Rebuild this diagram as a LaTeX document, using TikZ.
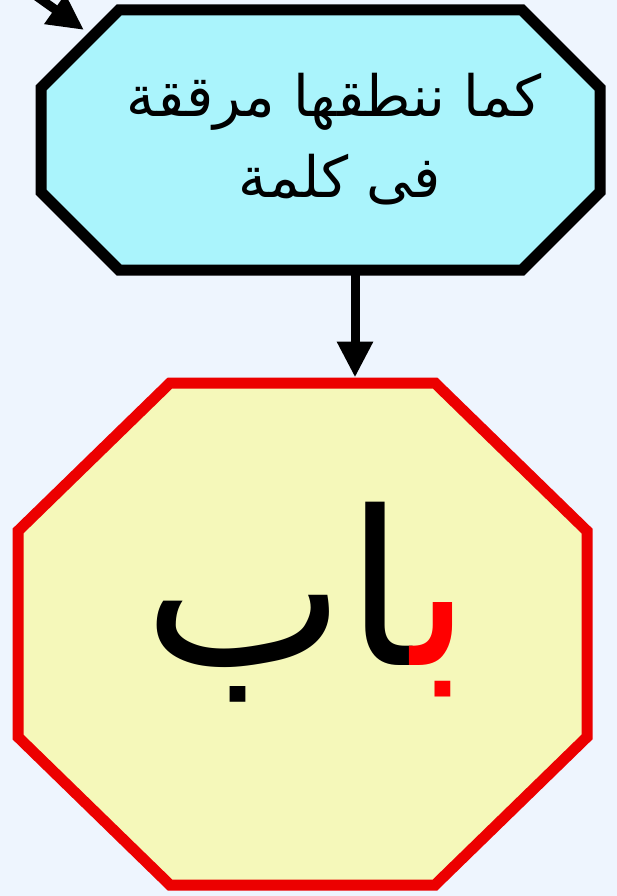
\documentclass[tikz,border=0pt]{standalone}
\usepackage{fontspec}
\usetikzlibrary{arrows.meta}
\newfontfamily\arabicfont[Script=Arabic]{DejaVu Sans}
\TeXXeTstate=1
\definecolor{bgc}{RGB}{238,245,254}
\definecolor{cyanfill}{RGB}{170,244,252}
\definecolor{yelfill}{RGB}{245,248,186}
\definecolor{redline}{RGB}{236,0,0}
\tikzset{
  geom/.style={inner sep=0pt, outer sep=0pt, draw=none},
  topoct/.style={draw=black, fill=cyanfill, line width=11pt, line join=miter},
  botoct/.style={draw=redline, fill=yelfill, line width=11pt, line join=miter},
  arr/.style={draw=black, line width=9pt, -{Triangle[width=34pt,length=36pt]}},
  toplabel/.style={anchor=base, inner sep=0pt, font=\arabicfont\fontsize{57}{64}\selectfont},
  wordlabel/.style={anchor=base, inner sep=0pt, font=\arabicfont\fontsize{215}{230}\selectfont}
}
\begin{document}
\begin{tikzpicture}[x=1pt,y=-1pt]
\fill[bgc] (0,0) rectangle (617,896);
\useasboundingbox (0,0) rectangle (617,896);
\clip (0,0) rectangle (617,896);
% geometry nodes
\node[geom, minimum width=559pt, minimum height=260pt] (top) at (320.5,140) {};
\node[geom, minimum width=569pt, minimum height=502pt] (bot) at (302.5,634) {};
% top octagon
\draw[topoct] ([xshift=78pt]top.north west) -- ([xshift=-78pt]top.north east)
  -- ([yshift=-78pt]top.north east) -- ([yshift=78pt]top.south east)
  -- ([xshift=-78pt]top.south east) -- ([xshift=78pt]top.south west)
  -- ([yshift=78pt]top.south west) -- ([yshift=-78pt]top.north west) -- cycle;
% bottom octagon
\draw[botoct] ([xshift=152pt]bot.north west) -- ([xshift=-152pt]bot.north east)
  -- ([yshift=-148pt]bot.north east) -- ([yshift=148pt]bot.south east)
  -- ([xshift=-152pt]bot.south east) -- ([xshift=152pt]bot.south west)
  -- ([yshift=148pt]bot.south west) -- ([yshift=-148pt]bot.north west) -- cycle;
% texts
\node[toplabel] (line1) at (334,117) {\beginR كما ننطقها مرققة\endR};
\node[toplabel] (line2) at (340,197) {\beginR فى كلمة\endR};
\node[wordlabel] (word) at (307,665) {^^^^200dاب{\color{red}ب^^^^200d}};
% connectors
\coordinate (src) at (25,-12);
\coordinate (topin) at ([xshift=43pt,yshift=-20pt]top.north west);
\draw[arr] (src) -- (topin);
\draw[arr, shorten >=5.5pt] ([xshift=34.5pt]top.south) -- ([xshift=34.5pt]top.south |- bot.north);
\end{tikzpicture}
\end{document}
